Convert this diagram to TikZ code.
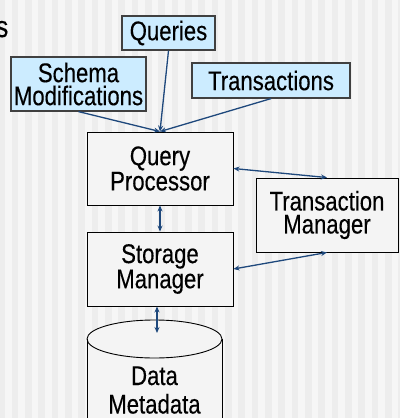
\documentclass[tikz,border=0pt]{standalone}
\usepackage{fontspec}
\setmainfont[FakeStretch=0.82,FakeBold=0.3]{Liberation Sans}
\usetikzlibrary{arrows.meta}
\definecolor{bgdark}{RGB}{237,237,237}
\definecolor{bglight}{RGB}{246,246,246}
\definecolor{boxfill}{RGB}{244,244,244}
\definecolor{boxblue}{RGB}{204,236,255}
\definecolor{arrowblue}{RGB}{30,72,124}
\begin{document}
\begin{tikzpicture}[x=1pt,y=-1pt,
  lbl/.style={font=\fontsize{27}{23}\selectfont, align=center, inner sep=0pt},
  inbox/.style={lbl, draw=black!75, line width=1.2pt, fill=boxblue},
  compbox/.style={lbl, draw=black, line width=0.9pt, fill=boxfill},
  tip/.tip={Stealth[length=6pt,width=5pt]},
  arr/.style={draw=arrowblue, line width=1.3pt, -tip},
  darr/.style={draw=arrowblue, line width=1.3pt, tip-tip}]
\useasboundingbox (0,0) rectangle (400,418);
\clip (0,0) rectangle (400,418);
% background stripes
\fill[bgdark] (0,0) rectangle (400,418);
\foreach \i in {-1,...,30} {
  \fill[bglight] (5+13.33*\i,0) rectangle (11.67+13.33*\i,418);
}
% cut-off title letter
\node[font=\fontsize{30}{30}\selectfont, anchor=base east, inner sep=0pt] (title) at (8.5,37) {s};
% input boxes
\node[inbox, minimum width=93pt, minimum height=34pt] (queries) at (168.5,33) {Queries};
\node[inbox, minimum width=135pt, minimum height=54pt] (schema) at (78.5,84) {Schema\\Modifications};
\node[inbox, minimum width=158pt, minimum height=35pt] (trans) at (271,80.5) {Transactions};
% components
\node[compbox, minimum width=146pt, minimum height=73pt] (qp) at (160,168.5) {Query\\Processor};
\node[compbox, minimum width=146pt, minimum height=74pt] (sm) at (160,269) {Storage\\Manager};
\node[compbox, minimum width=142pt, minimum height=74pt] (tm) at (327,215) {Transaction\\Manager};
% database cylinder
\fill[boxfill] (87,339) -- (87,440) -- (222,440) -- (222,339) -- cycle;
\fill[boxfill] (154.5,339) ellipse [x radius=67.5, y radius=19];
\draw[black, line width=0.9pt] (87,339) -- (87,440) (222,339) -- (222,440);
\draw[black, line width=0.9pt] (154.5,339) ellipse [x radius=67.5, y radius=19];
\coordinate (dbtop) at (157,333);
\node[lbl, font=\fontsize{27}{28.5}\selectfont, anchor=base] (db) at (154.5,413.5) {Data\\Metadata};
% connectors
\draw[arr] (schema.south) -- (qp.north);
\draw[arr] (queries.south) -- (qp.north);
\draw[arr] (trans.south) -- (qp.north);
\draw[darr] (qp.south) -- (sm.north);
\draw[darr] (qp.east) -- (tm.north);
\draw[darr] (sm.east) -- (tm.south);
\draw[darr] ([xshift=-3pt]sm.south) -- (dbtop);
\end{tikzpicture}
\end{document}
